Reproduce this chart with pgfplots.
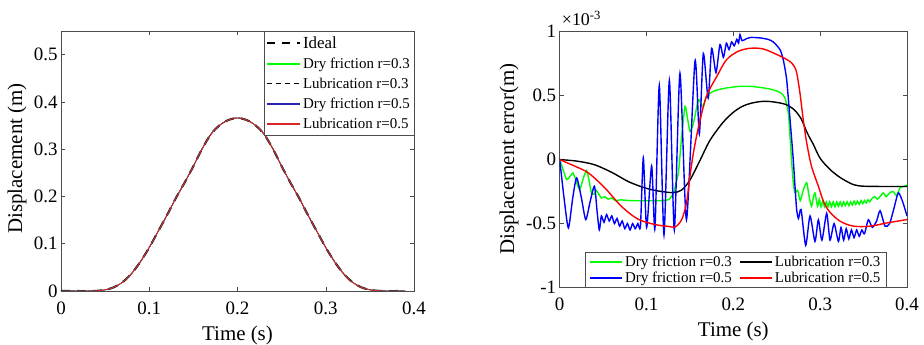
\documentclass[border=0pt]{standalone}
\usepackage{fontspec}
\setmainfont{Liberation Serif}
\usepackage{pgfplots}
\pgfplotsset{compat=1.18}
\definecolor{mgreen}{rgb}{0,1,0}
\definecolor{mblue}{rgb}{0,0,1}
\definecolor{mred}{rgb}{1,0,0}
\definecolor{dblue}{rgb}{0.15,0.15,0.7}
\definecolor{dred}{rgb}{0.85,0.15,0.15}
\definecolor{axgray}{rgb}{0.3,0.3,0.3}

\pgfplotsset{
  mybase/.style={
    scale only axis,
    axis line style={axgray,line width=0.6bp},
    tick style={axgray,line width=0.5bp},
    tick align=inside,
    major tick length=4bp,
    xmin=0, xmax=0.4,
    xtick={0,0.1,0.2,0.3,0.4},
    xticklabels={0,0.1,0.2,0.3,0.4},
    ticklabel style={font=\fontsize{19}{19}\selectfont},
    xticklabel shift=7bp,
    /pgf/number format/assume math mode=true,
    label style={font=\fontsize{21}{21}\selectfont},
    legend style={font=\fontsize{15}{15}\selectfont, draw=axgray},
    legend cell align=left,
  }
}

\begin{document}
\begin{tikzpicture}
\path[use as bounding box] (0bp,0bp) rectangle (924bp,345bp);

% ---------------- left axis ----------------
\begin{axis}[mybase,
  at={(61bp,54bp)}, anchor=south west,
  width=353bp, height=260bp,
  ymin=0, ymax=0.55,
  ytick={0,0.1,0.2,0.3,0.4,0.5},
  yticklabels={0,0.1,0.2,0.3,0.4,0.5},
  xlabel={Time (s)}, ylabel={Displacement (m)},
  xlabel style={at={(axis description cs:0.5,-0.172)}, anchor=center},
  ylabel style={at={(axis description cs:-0.1246,0.51)}, anchor=center},
  legend style={at={(rel axis cs:1,1)}, anchor=north east, row sep=4bp,
    inner xsep=2bp, inner ysep=3.5bp},
  legend image code/.code={\draw[#1] (0bp,0bp) -- (33bp,0bp);},
]
\pgfplotstableread{
t y
0.00 0
0.01 0
0.02 0
0.03 0
0.04 0.0003
0.05 0.0025
0.06 0.008
0.07 0.019
0.08 0.037
0.09 0.062
0.10 0.092
0.11 0.126
0.12 0.160
0.13 0.196
0.14 0.229
0.15 0.264
0.16 0.301
0.17 0.332
0.18 0.351
0.19 0.362
0.20 0.366
0.21 0.362
0.22 0.351
0.23 0.332
0.24 0.301
0.25 0.264
0.26 0.229
0.27 0.196
0.28 0.160
0.29 0.126
0.30 0.092
0.31 0.062
0.32 0.037
0.33 0.019
0.34 0.008
0.35 0.0025
0.36 0.0003
0.37 0
0.38 0
0.39 0
}\disp
\addplot[forget plot, black, line width=2bp, dash pattern=on 9bp off 7bp, smooth] table {\disp};
\addplot[forget plot, mgreen, line width=0.8bp, smooth] table {\disp};
\addplot[forget plot, black, line width=0.8bp, dash pattern=on 5bp off 4bp, smooth] table {\disp};
\addplot[forget plot, dblue, line width=0.8bp, smooth] table {\disp};
\addplot[forget plot, dred, line width=0.9bp, smooth] table {\disp};
\addlegendimage{black, line width=2.2bp, dash pattern=on 8bp off 7bp}
\addlegendentry{\fontsize{17}{17}\selectfont Ideal}
\addlegendimage{mgreen, line width=1.6bp}
\addlegendentry{Dry friction r=0.3}
\addlegendimage{black, line width=1.2bp, dash pattern=on 5bp off 4bp}
\addlegendentry{Lubrication r=0.3}
\addlegendimage{dblue, line width=1.6bp}
\addlegendentry{Dry friction r=0.5}
\addlegendimage{dred, line width=1.6bp}
\addlegendentry{Lubrication r=0.5}
\end{axis}

% ---------------- right axis ----------------
\begin{axis}[mybase, name=R,
  at={(559.7bp,57.5bp)}, anchor=south west,
  width=347.3bp, height=255.8bp,
  ymin=-1, ymax=1,
  ytick={-1,-0.5,0,0.5,1},
  yticklabels={-1,-0.5,0,0.5,1},
  xlabel={Time (s)}, ylabel={Displacement error(m)},
  xlabel style={at={(axis description cs:0.5,-0.17)}, anchor=center},
  ylabel style={at={(axis description cs:-0.146,0.502)}, anchor=center},
  legend columns=2,
  legend style={at={(rel axis cs:0.507,0)}, anchor=south, row sep=0bp,
    inner xsep=4bp, inner ysep=1.5bp,
    /tikz/every even column/.append style={column sep=5bp}},
  legend image code/.code={\draw[#1] (0bp,0bp) -- (32bp,0bp);},
]
% green: dry friction r=0.3
\addplot[forget plot, mgreen, line width=1.4bp, smooth, tension=0.4] coordinates {
(0.000,0.000) (0.004,-0.08) (0.008,-0.156) (0.012,-0.13) (0.0153,-0.104) (0.019,-0.17)
(0.023,-0.234) (0.027,-0.15) (0.031,-0.085) (0.034,-0.17) (0.0365,-0.26) (0.040,-0.27)
(0.042,-0.24) (0.045,-0.27) (0.048,-0.30) (0.052,-0.29) (0.056,-0.31) (0.060,-0.30)
(0.064,-0.32) (0.070,-0.315) (0.080,-0.32) (0.090,-0.322) (0.100,-0.322) (0.110,-0.322)
(0.120,-0.32) (0.126,-0.31) (0.131,-0.26) (0.1366,-0.104) (0.1405,0.18) (0.1443,0.417)
(0.147,0.33) (0.150,0.221) (0.153,0.26) (0.1558,0.339) (0.1596,0.469) (0.1625,0.44)
(0.1654,0.417) (0.169,0.495) (0.177,0.534) (0.185,0.55) (0.192,0.56) (0.2077,0.573)
(0.219,0.573) (0.230,0.565) (0.242,0.552) (0.2537,0.526) (0.2595,0.482) (0.2633,0.365)
(0.265,0.208) (0.267,0.0) (0.269,-0.18) (0.271,-0.26) (0.274,-0.24) (0.277,-0.32)
(0.2805,-0.24) (0.2845,-0.18) (0.287,-0.28) (0.290,-0.365) (0.292,-0.30) (0.294,-0.26)
(0.297,-0.365) (0.299,-0.31) (0.301,-0.37) (0.303,-0.32) (0.305,-0.37) (0.307,-0.33)
(0.309,-0.37) (0.311,-0.33) (0.313,-0.37) (0.315,-0.33) (0.317,-0.37) (0.319,-0.33)
(0.321,-0.365) (0.323,-0.33) (0.325,-0.365) (0.327,-0.33) (0.329,-0.36) (0.331,-0.33)
(0.333,-0.36) (0.335,-0.33) (0.337,-0.355) (0.339,-0.325) (0.341,-0.35) (0.343,-0.325)
(0.345,-0.35) (0.347,-0.32) (0.349,-0.345) (0.351,-0.32) (0.353,-0.34) (0.355,-0.315)
(0.357,-0.33) (0.360,-0.30) (0.363,-0.29) (0.366,-0.31) (0.370,-0.28) (0.3727,-0.26)
(0.376,-0.29) (0.380,-0.26) (0.384,-0.25) (0.388,-0.28) (0.392,-0.22) (0.396,-0.21)
(0.400,-0.20)
};
% black: lubrication r=0.3
\addplot[forget plot, black, line width=1.4bp, smooth] coordinates {
(0.000,0.000) (0.020,-0.012) (0.040,-0.040) (0.060,-0.100) (0.080,-0.175) (0.100,-0.225)
(0.115,-0.247) (0.130,-0.258) (0.140,-0.240) (0.150,-0.160) (0.162,0.000) (0.173,0.150)
(0.188,0.290) (0.200,0.370) (0.210,0.415) (0.220,0.440) (0.233,0.455) (0.245,0.452)
(0.260,0.432) (0.270,0.390) (0.278,0.320) (0.285,0.210) (0.292,0.120) (0.300,0.010)
(0.311,-0.075) (0.323,-0.140) (0.338,-0.195) (0.350,-0.208) (0.370,-0.210) (0.400,-0.210)
};
% blue: dry friction r=0.5
\addplot[forget plot, mblue, line width=1.4bp, smooth, tension=0.4] coordinates {
(0.000,0.000) (0.005,-0.30) (0.010,-0.534) (0.015,-0.30) (0.0195,-0.143) (0.025,-0.30)
(0.030,-0.469) (0.035,-0.33) (0.040,-0.208) (0.043,-0.40) (0.0456,-0.55) (0.048,-0.44)
(0.051,-0.49) (0.054,-0.43) (0.057,-0.48) (0.060,-0.44) (0.063,-0.50) (0.066,-0.46)
(0.069,-0.52) (0.072,-0.48) (0.075,-0.54) (0.078,-0.50) (0.081,-0.55) (0.084,-0.50)
(0.087,-0.54) (0.090,-0.50) (0.093,-0.52) (0.0963,0.013) (0.1001,-0.53) (0.1059,-0.05)
(0.1097,-0.54) (0.1147,0.58) (0.1201,-0.59) (0.1263,0.62) (0.1320,-0.55) (0.1385,0.675)
(0.1460,-0.47) (0.1558,0.77) (0.1608,0.20) (0.1654,0.83) (0.1710,0.48) (0.1750,0.87)
(0.1800,0.68) (0.1846,0.90) (0.1885,0.80) (0.1920,0.91) (0.1950,0.86) (0.1980,0.92)
(0.2010,0.89) (0.2040,0.94) (0.2060,0.91) (0.2076,0.977) (0.2100,0.93) (0.2150,0.945)
(0.2200,0.955) (0.2300,0.952) (0.2400,0.94) (0.2460,0.92) (0.2537,0.86) (0.2575,0.78)
(0.2614,0.625) (0.2653,0.313) (0.2690,0.00) (0.2710,-0.21) (0.2729,-0.39) (0.2750,-0.46)
(0.2780,-0.39) (0.2833,-0.67) (0.2883,-0.44) (0.2940,-0.64) (0.2979,-0.47) (0.3020,-0.63)
(0.3075,-0.42) (0.3113,-0.63) (0.3160,-0.50) (0.3210,-0.64) (0.3240,-0.53) (0.3270,-0.63)
(0.3300,-0.54) (0.3330,-0.62) (0.3360,-0.55) (0.3390,-0.61) (0.3420,-0.55) (0.3450,-0.60)
(0.3480,-0.55) (0.3510,-0.58) (0.3555,-0.47) (0.3600,-0.53) (0.3650,-0.48) (0.3690,-0.40)
(0.3747,-0.52) (0.3800,-0.50) (0.3850,-0.38) (0.3900,-0.26) (0.3950,-0.33) (0.4000,-0.44)
};
% red: lubrication r=0.5
\addplot[forget plot, mred, line width=1.4bp, smooth] coordinates {
(0.000,0.000) (0.0176,-0.052) (0.033,-0.104) (0.052,-0.221) (0.071,-0.365) (0.090,-0.465)
(0.110,-0.508) (0.125,-0.522) (0.133,-0.526) (0.1405,-0.469) (0.146,-0.339) (0.150,-0.13)
(0.154,0.052) (0.160,0.26) (0.169,0.495) (0.181,0.651) (0.192,0.78) (0.205,0.845)
(0.219,0.870) (0.2345,0.865) (0.2537,0.81) (0.265,0.768) (0.270,0.73) (0.273,0.677)
(0.2767,0.521) (0.2805,0.3125) (0.2845,0.13) (0.290,-0.052) (0.298,-0.21) (0.304,-0.33)
(0.311,-0.41) (0.323,-0.482) (0.338,-0.52) (0.357,-0.521) (0.377,-0.495) (0.400,-0.469)
};
\addlegendimage{mgreen, line width=2bp}
\addlegendentry{Dry friction r=0.3}
\addlegendimage{black, line width=2bp}
\addlegendentry{Lubrication r=0.3}
\addlegendimage{mblue, line width=2bp}
\addlegendentry{Dry friction r=0.5}
\addlegendimage{mred, line width=2bp}
\addlegendentry{Lubrication r=0.5}
\end{axis}
\node[anchor=base west, font=\fontsize{18}{18}\selectfont, inner sep=0pt]
  at ([xshift=2bp,yshift=6bp]R.north west) {×10\textsuperscript{-3}};
\end{tikzpicture}
\end{document}
